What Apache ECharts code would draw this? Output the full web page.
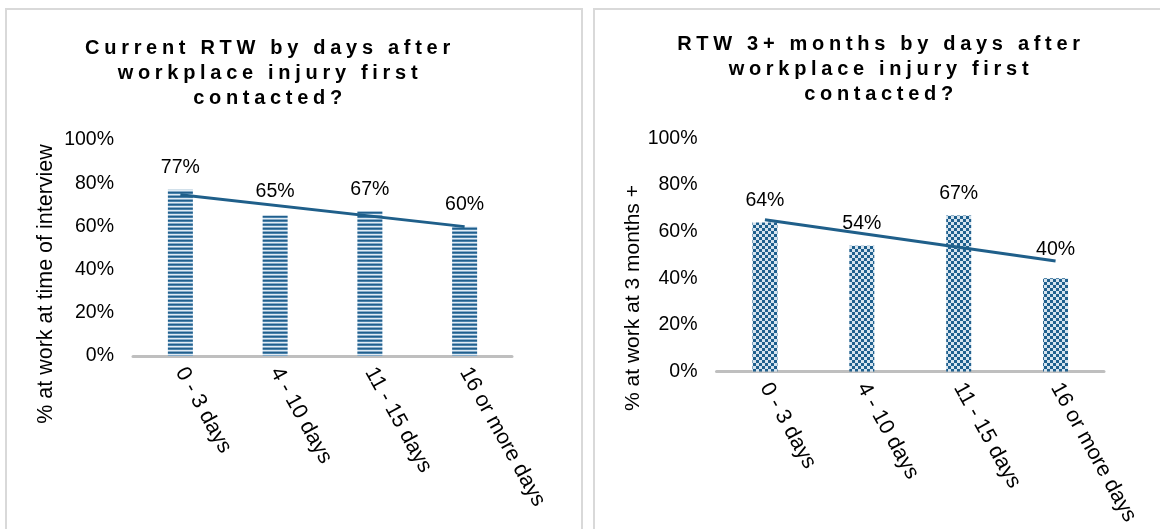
<!DOCTYPE html>
<html><head><meta charset="utf-8">
<script src="https://cdn.jsdelivr.net/npm/echarts@6/dist/echarts.min.js"></script>
<style>
html,body{margin:0;padding:0;background:#fff;}
#wrap{position:relative;width:1160px;height:529px;overflow:hidden;}
#chart{position:absolute;left:0;top:0;width:1160px;height:529px;}
.ttl{position:absolute;font-family:"Liberation Sans",Arial,sans-serif;font-weight:bold;font-size:20px;letter-spacing:4.7px;padding-left:4.7px;line-height:25px;text-align:center;color:#000;white-space:nowrap;width:460px;}
</style></head>
<body><div id="wrap"><div id="chart"></div>
<div class="ttl" id="t1"></div><div class="ttl" id="t2"></div></div>
<script>
const categories = ['0 - 3 days', '4 - 10 days', '11 - 15 days', '16 or more days'];
const currentRTW = [77, 65, 67, 60];
const rtw3Months = [64, 54, 67, 40];
// trend line end values (first and last category)
const currentTrend = [74.6, 59.9];
const rtw3Trend = [65.1, 47.4];
const titleLeft = ['Current RTW by days after', 'workplace injury first', 'contacted?'];
const titleRight = ['RTW 3+ months by days after', 'workplace injury first', 'contacted?'];
const yNameLeft = '% at work at time of interview';
const yNameRight = '% at work at 3 months +';

const FONT = '"Liberation Sans", Arial, sans-serif';

const t1 = document.getElementById('t1');
t1.innerHTML = titleLeft.join('<br>');
t1.style.left = (270 - 230 - 4.7) + 'px'; t1.style.top = '35px';
const t2 = document.getElementById('t2');
t2.innerHTML = titleRight.join('<br>');
t2.style.left = (881 - 230 - 4.7) + 'px'; t2.style.top = '31px';

function stripePattern() {
  const c = document.createElement('canvas'); c.width = 4; c.height = 4;
  const g = c.getContext('2d');
  ['#215f8c', '#4a82ab', '#e2ecf4', '#86abc8'].forEach((col, i) => { g.fillStyle = col; g.fillRect(0, i, 4, 1); });
  return c;
}
function checkerPattern() {
  const c = document.createElement('canvas'); c.width = 6; c.height = 6;
  const g = c.getContext('2d');
  g.fillStyle = '#d6e4ef'; g.fillRect(0, 0, 6, 6);
  g.fillStyle = '#1f608e'; g.fillRect(0, 0, 3, 3); g.fillRect(3, 3, 3, 3);
  return c;
}

const chart = echarts.init(document.getElementById('chart'), null, { renderer: 'canvas' });

function xAxisCfg(gi) {
  return {
    gridIndex: gi, type: 'category', data: categories,
    axisLine: { lineStyle: { color: '#bfbfbf', width: 3 } },
    axisTick: { show: false },
    axisLabel: { rotate: -61, margin: 13, fontSize: 21.5, color: '#000', fontFamily: FONT, interval: 0 }
  };
}
function yAxisCfg(gi) {
  return {
    gridIndex: gi, type: 'value', min: 0, max: 100, interval: 20,
    axisLabel: { formatter: '{value}%', fontSize: 19.5, color: '#000', fontFamily: FONT, margin: 19 },
    splitLine: { show: false }, axisLine: { show: false }, axisTick: { show: false }
  };
}
// label distances above each bar (the reference lifts the last right-hand label clear of the trend line)
function barSeries(gi, data, pattern, distances) {
  return {
    type: 'bar', xAxisIndex: gi, yAxisIndex: gi,
    data: data.map((v, i) => ({ value: v, label: { distance: distances[i] } })),
    barWidth: 25,
    itemStyle: { color: { image: pattern, repeat: 'repeat' } },
    label: { show: true, position: 'top', formatter: '{c}%', fontSize: 19.5, color: '#000', fontFamily: FONT },
    z: 2
  };
}
function trendSeries(gi, ends) {
  return {
    type: 'line', xAxisIndex: gi, yAxisIndex: gi,
    data: [[0, ends[0]], [categories.length - 1, ends[1]]],
    symbol: 'none', lineStyle: { color: '#1f5f8a', width: 3 }, z: 5, silent: true
  };
}

chart.setOption({
  animation: false,
  textStyle: { fontFamily: FONT },
  grid: [
    { left: 133, width: 379, top: 140, height: 216 },
    { left: 716.5, width: 387.5, top: 138.5, height: 233 }
  ],
  xAxis: [xAxisCfg(0), xAxisCfg(1)],
  yAxis: [yAxisCfg(0), yAxisCfg(1)],
  series: [
    barSeries(0, currentRTW, stripePattern(), [12, 14, 12, 12]),
    trendSeries(0, currentTrend),
    barSeries(1, rtw3Months, checkerPattern(), [12, 12, 12, 19]),
    trendSeries(1, rtw3Trend)
  ],
  graphic: [
    { type: 'rect', shape: { x: 6, y: 9, width: 576, height: 560 }, style: { fill: 'none', stroke: '#d9d9d9', lineWidth: 2 }, silent: true },
    { type: 'rect', shape: { x: 594, y: 9, width: 600, height: 560 }, style: { fill: 'none', stroke: '#d9d9d9', lineWidth: 2 }, silent: true },
    { type: 'text', x: 46, y: 284, rotation: Math.PI / 2,
      style: { text: yNameLeft, fontSize: 21.5, fontFamily: FONT, fill: '#000', align: 'center', verticalAlign: 'middle', textAlign: 'center', textVerticalAlign: 'middle' } },
    { type: 'text', x: 633, y: 298, rotation: Math.PI / 2,
      style: { text: yNameRight, fontSize: 21, fontFamily: FONT, fill: '#000', align: 'center', verticalAlign: 'middle', textAlign: 'center', textVerticalAlign: 'middle' } }
  ]
});
</script>
</body></html>
